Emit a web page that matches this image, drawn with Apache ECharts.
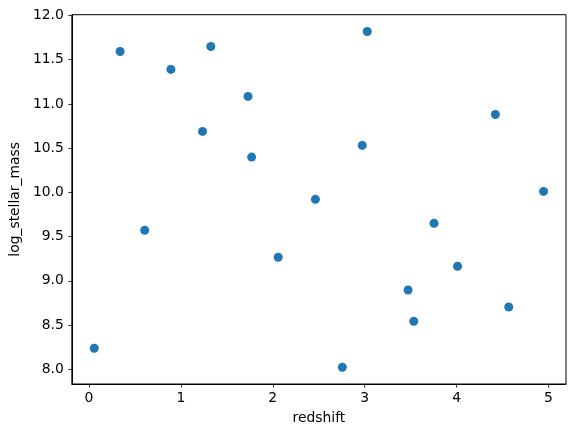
<!DOCTYPE html>
<html>
<head>
<meta charset="utf-8">
<script src="https://cdn.jsdelivr.net/npm/echarts@6/dist/echarts.min.js"></script>
<style>html,body{margin:0;padding:0;background:#fff}#c{width:576px;height:437px}</style>
</head>
<body>
<div id="c"></div>
<script>
const redshift = [0.339, 0.892, 1.326, 1.731, 1.236, 1.770, 3.028, 4.422, 2.973, 2.464, 4.946, 3.754, 0.607, 2.059, 0.058, 4.010, 3.472, 4.567, 3.534, 2.757];
const logStellarMass = [11.593, 11.390, 11.650, 11.085, 10.689, 10.399, 11.819, 10.881, 10.531, 9.921, 10.011, 9.650, 9.571, 9.266, 8.237, 9.164, 8.896, 8.704, 8.542, 8.023];
const xTicks = [0, 1, 2, 3, 4, 5];
const yTicks = [8.0, 8.5, 9.0, 9.5, 10.0, 10.5, 11.0, 11.5, 12.0];
const xLabel = 'redshift';
const yLabel = 'log_stellar_mass';

const points = redshift.map((x, i) => [x, logStellarMass[i]]);
const font = 'DejaVu Sans';
const chart = echarts.init(document.getElementById('c'), null, {renderer: 'canvas'});
chart.setOption({
  animation: false,
  backgroundColor: '#fff',
  grid: {left: 70.3, top: 14.7, right: 10, bottom: 53, show: true, borderColor: '#000', borderWidth: 1, containLabel: false},
  xAxis: {
    type: 'value', min: -0.186, max: 5.19,
    name: xLabel, nameLocation: 'middle', nameGap: 27,
    nameTextStyle: {fontFamily: font, fontSize: 13.9, color: '#000'},
    axisLine: {show: true, onZero: false, lineStyle: {color: '#000', width: 1}},
    axisTick: {show: true, inside: false, length: 3.5, lineStyle: {color: '#000', width: 0.8}, customValues: xTicks},
    axisLabel: {fontFamily: font, fontSize: 13.9, color: '#000', margin: 7, customValues: xTicks, formatter: v => String(Math.round(v))},
    splitLine: {show: false}
  },
  yAxis: {
    type: 'value', min: 7.833, max: 12.009,
    name: yLabel, nameLocation: 'middle', nameGap: 45, nameRotate: 90,
    nameTextStyle: {fontFamily: font, fontSize: 13.9, color: '#000'},
    axisLine: {show: true, onZero: false, lineStyle: {color: '#000', width: 1}},
    axisTick: {show: true, inside: false, length: 3.5, lineStyle: {color: '#000', width: 0.8}, customValues: yTicks},
    axisLabel: {fontFamily: font, fontSize: 13.9, color: '#000', margin: 8, customValues: yTicks, formatter: v => v.toFixed(1)},
    splitLine: {show: false}
  },
  series: [{
    type: 'scatter',
    data: points,
    symbol: 'circle',
    symbolSize: 9,
    itemStyle: {color: '#1f77b4', opacity: 1},
    emphasis: {disabled: true}
  }]
});
</script>
</body>
</html>
